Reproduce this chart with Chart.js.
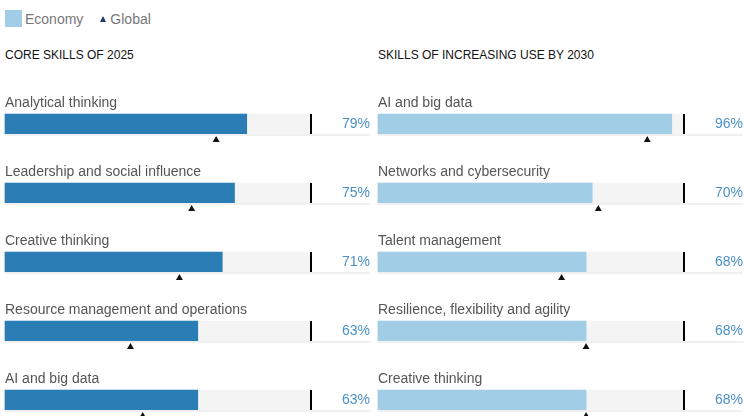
<!DOCTYPE html>
<html>
<head>
<meta charset="utf-8">
<script src="https://cdn.jsdelivr.net/npm/chart.js@4"></script>
<style>
    body { margin: 0; width: 747px; height: 416px; overflow: hidden; background: #fff; font-family: "Liberation Sans", Arial, Helvetica, sans-serif; position: relative; }
    .legend { position: absolute; left: 5px; top: 10px; height: 17px; display: flex; align-items: center; font-size: 14px; color: #777; }
    .swatch { width: 17px; height: 17px; background: #a1cde6; margin-right: 3px; }
    .tri { width: 0; height: 0; border-left: 3px solid transparent; border-right: 3px solid transparent; border-bottom: 6px solid #1f3b6b; margin: 0 4px 0 17px; }
    .head { position: absolute; top: 48px; font-size: 12px; color: #111; line-height: 14px; }
    canvas { position: absolute; top: 80px; }
</style>
</head>
<body>
<div class="legend"><div class="swatch"></div>Economy<div class="tri"></div>Global</div>
<div class="head" style="left:5px">CORE SKILLS OF 2025</div>
<div class="head" style="left:378px">SKILLS OF INCREASING USE BY 2030</div>
<canvas id="coreChart" width="374" height="336" style="left:0"></canvas>
<canvas id="risingChart" width="374" height="336" style="left:373px"></canvas>
<script>
const coreSkills = ['Analytical thinking', 'Leadership and social influence', 'Creative thinking', 'Resource management and operations', 'AI and big data'];
const coreEconomy = [79, 75, 71, 63, 63];
const coreGlobal = [69, 61, 57, 41, 45];

const risingSkills = ['AI and big data', 'Networks and cybersecurity', 'Talent management', 'Resilience, flexibility and agility', 'Creative thinking'];
const risingEconomy = [96, 70, 68, 68, 68];
const risingGlobal = [88, 72, 60, 68, 68];

// labels above bars, 100% marker, value text and row underline
const rowDecor = {
    id: 'rowDecor',
    afterDatasetsDraw(chart) {
        const ctx = chart.ctx;
        const xs = chart.scales.x, ys = chart.scales.y;
        const names = chart.options.plugins.rowDecor.names;
        const vals = chart.options.plugins.rowDecor.values;
        const left = xs.getPixelForValue(0);
        const full = xs.getPixelForValue(100);
        ctx.save();
        names.forEach(function(name, i) {
            const yc = ys.getPixelForValue(i);
            // underline
            ctx.fillStyle = '#f0f0f0';
            ctx.fillRect(left, yc + 10, 365, 2);
            // black marker at 100
            ctx.fillStyle = '#000';
            ctx.fillRect(Math.round(full) - 1, yc - 10, 2, 20);
            // label
            ctx.font = '14px "Liberation Sans", Arial, sans-serif';
            ctx.fillStyle = '#555';
            ctx.textAlign = 'left';
            ctx.textBaseline = 'middle';
            ctx.fillText(name, left, yc - 21);
            // value
            ctx.fillStyle = '#4a90c8';
            ctx.textAlign = 'right';
            ctx.fillText(vals[i] + '%', left + 365, yc);
        });
        ctx.restore();
    }
};

function makeChart(id, names, economy, global, color) {
    new Chart(document.getElementById(id), {
        type: 'bar',
        data: {
            datasets: [
                {
                    type: 'scatter',
                    data: global.map(function(v, i) { return { x: v, y: i + 0.232 }; }),
                    pointStyle: 'triangle',
                    pointRadius: 4,
                    backgroundColor: '#111',
                    borderWidth: 0,
                    clip: false
                },
                {
                    data: economy.map(function(v, i) { return { x: v, y: i }; }),
                    backgroundColor: color,
                    barThickness: 20,
                    grouped: false,
                    clip: false
                },
                {
                    data: names.map(function(n, i) { return { x: 100, y: i }; }),
                    backgroundColor: '#f4f4f4',
                    barThickness: 20,
                    grouped: false,
                    clip: false
                }
            ]
        },
        options: {
            indexAxis: 'y',
            responsive: false,
            animation: false,
            layout: { autoPadding: false, padding: { left: 5, right: 63, top: 44, bottom: 0 } },
            scales: {
                x: { type: 'linear', min: 0, max: 100, offset: false, display: false },
                y: { type: 'linear', min: 0, max: 4.232, reverse: true, offset: false, display: false }
            },
            plugins: {
                legend: { display: false },
                tooltip: { enabled: false },
                rowDecor: { names: names, values: economy }
            }
        },
        plugins: [rowDecor]
    });
}

makeChart('coreChart', coreSkills, coreEconomy, coreGlobal, '#2a7db5');
makeChart('risingChart', risingSkills, risingEconomy, risingGlobal, '#a1cde6');
</script>
</body>
</html>
